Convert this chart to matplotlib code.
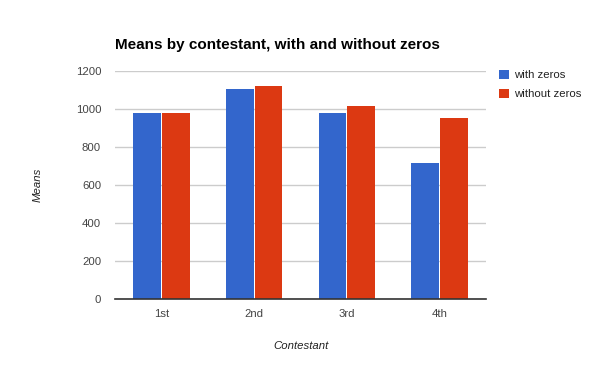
import matplotlib.pyplot as plt
import numpy as np

plt.rcParams['font.family'] = ['Liberation Sans', 'DejaVu Sans']

contestants = ['1st', '2nd', '3rd', '4th']
with_zeros = [980, 1107, 980, 717]
without_zeros = [980, 1123, 1017, 954]

fig = plt.figure(figsize=(6, 3.71), dpi=100)
ax = fig.add_axes([115 / 600, 1 - 299 / 371, 371 / 600, 228 / 371])

x = np.arange(len(contestants))
w = 0.30
ax.bar(x - w / 2 - 0.005, with_zeros, w, color='#3366cc', label='with zeros', zorder=3)
ax.bar(x + w / 2 + 0.005, without_zeros, w, color='#dc3912', label='without zeros', zorder=3)

ax.set_xlim(-0.5, len(contestants) - 0.5)
ax.set_ylim(0, 1200)
ax.set_yticks(range(0, 1201, 200))
ax.set_xticks(x)
ax.set_xticklabels(contestants)
ax.tick_params(length=0, labelsize=8.2, colors='#444444')
ax.tick_params(axis='y', pad=10)
ax.tick_params(axis='x', pad=7)
ax.grid(axis='y', color='#cccccc', linewidth=1, zorder=0)
for s in ['left', 'right', 'top']:
    ax.spines[s].set_visible(False)
ax.spines['bottom'].set_color('#333333')
ax.spines['bottom'].set_linewidth(1.2)
ax.spines['bottom'].set_zorder(4)

ax.set_xlabel('Contestant', fontsize=8.2, style='italic', color='#222222', labelpad=16)
ax.set_ylabel('Means', fontsize=8.2, style='italic', color='#222222', labelpad=24)

fig.text(115 / 600, 1 - 45 / 371, 'Means by contestant, with and without zeros',
         fontsize=11, fontweight='bold', va='center', ha='left')

fig.legend(loc='upper left', bbox_to_anchor=(494 / 600, 1 - 65 / 371), frameon=False,
           fontsize=8.2, handlelength=0.9, handleheight=0.9, handletextpad=0.5,
           labelspacing=0.75, borderaxespad=0, labelcolor='#222222')

fig.savefig('out.png', dpi=100)
